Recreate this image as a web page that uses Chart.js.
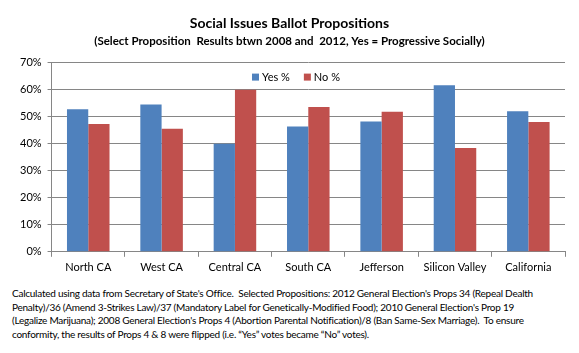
<!DOCTYPE html>
<html>
<head>
<meta charset="utf-8">
<script src="https://cdn.jsdelivr.net/npm/chart.js@4"></script>
<style>
  body { margin: 0; background: #fff; }
  #wrap { position: relative; width: 579px; height: 353px; }
  #chartBox { position: absolute; left: 0; top: 0; width: 579px; height: 278px; }
  #note {
    position: absolute; left: 12px; top: 287px; width: 560px;
    font-family: Lato, "Liberation Sans", sans-serif; font-size: 10px;
    line-height: 13.7px; color: #000; letter-spacing: -0.25px;
  }
</style>
</head>
<body>
<div id="wrap">
  <div id="chartBox"><canvas id="propChart"></canvas></div>
  <div id="note">
    Calculated using data from Secretary of State's Office.&nbsp; Selected Propositions: 2012 General Election's Props 34 (Repeal Dealth<br>
    Penalty)/36 (Amend 3-Strikes Law)/37 (Mandatory Label for Genetically-Modified Food); 2010 General Election's Prop 19<br>
    (Legalize Marijuana); 2008 General Election's Props 4 (Abortion Parental Notification)/8 (Ban Same-Sex Marriage).&nbsp; To ensure<br>
    conformity, the results of Props 4 &amp; 8 were flipped (i.e. “Yes” votes became “No” votes).
  </div>
</div>
<script>
const regions = ['North CA', 'West CA', 'Central CA', 'South CA', 'Jefferson', 'Silicon Valley', 'California'];
const yesPct = [52.7, 54.5, 40.0, 46.4, 48.2, 61.6, 52.0];
const noPct  = [47.3, 45.5, 60.0, 53.6, 51.8, 38.4, 48.0];
const seriesNames = ['Yes %', 'No %'];

const fontFam = 'Lato, "Liberation Sans", sans-serif';

// legend drawn inside the plot area, near the top
const innerLegend = {
  id: 'innerLegend',
  afterDraw(chart) {
    const ctx = chart.ctx;
    const area = chart.chartArea;
    ctx.save();
    ctx.font = '11px ' + fontFam;
    ctx.textBaseline = 'middle';
    let x = 252;
    const y = area.top + 15;
    chart.data.datasets.forEach(ds => {
      ctx.fillStyle = ds.backgroundColor;
      ctx.fillRect(x, y - 4, 7, 7);
      ctx.fillStyle = '#000';
      ctx.fillText(ds.label, x + 10, y);
      x += 10 + ctx.measureText(ds.label).width + 14;
    });
    ctx.restore();
  }
};

new Chart(document.getElementById('propChart'), {
  type: 'bar',
  data: {
    labels: regions,
    datasets: [
      { label: seriesNames[0], data: yesPct, backgroundColor: '#4F81BD' },
      { label: seriesNames[1], data: noPct, backgroundColor: '#C0504D' }
    ]
  },
  options: {
    responsive: true,
    maintainAspectRatio: false,
    animation: false,
    categoryPercentage: 0.58,
    barPercentage: 1.0,
    layout: { padding: { left: 14, right: 14, top: 0, bottom: 0 } },
    plugins: {
      legend: { display: false },
      tooltip: { enabled: false },
      title: {
        display: true,
        text: 'Social Issues Ballot Propositions',
        color: '#000',
        font: { family: fontFam, size: 14, weight: 'bold' },
        padding: { top: 15, bottom: 3 }
      },
      subtitle: {
        display: true,
        text: '(Select Proposition  Results btwn 2008 and  2012, Yes = Progressive Socially)',
        color: '#000',
        font: { family: fontFam, size: 11.5, weight: 'bold' },
        padding: { top: 0, bottom: 14 }
      }
    },
    scales: {
      y: {
        min: 0,
        max: 70,
        ticks: {
          stepSize: 10,
          color: '#000',
          font: { family: fontFam, size: 11 },
          padding: 6,
          callback: v => v + '%'
        },
        grid: { color: '#868686', tickLength: 4, tickColor: '#868686' },
        border: { color: '#868686' }
      },
      x: {
        ticks: {
          color: '#000',
          font: { family: fontFam, size: 11 },
          padding: 4
        },
        grid: { offset: true, drawOnChartArea: false, tickLength: 5, color: '#868686' },
        border: { color: '#868686' }
      }
    }
  },
  plugins: [innerLegend]
});
</script>
</body>
</html>
